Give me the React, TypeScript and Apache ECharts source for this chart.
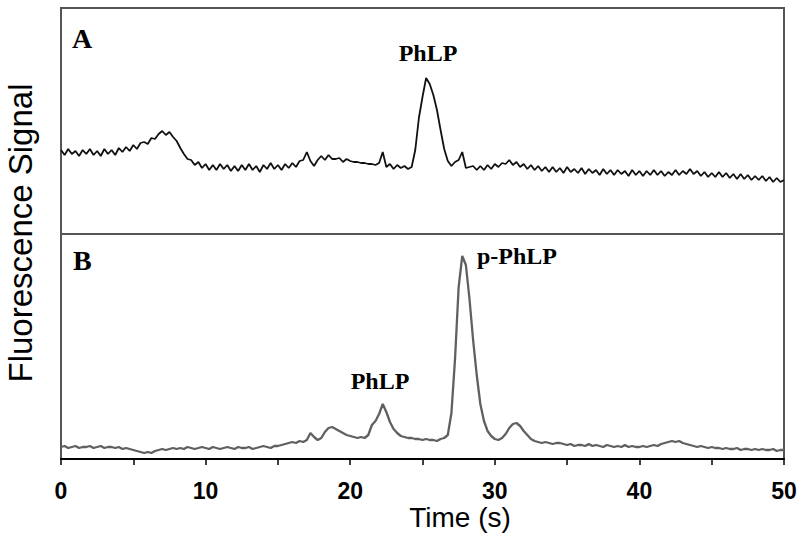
import React, { useEffect, useRef } from "react";
import * as echarts from "echarts";

// Sampling grid of the detector trace (seconds)
const TIME_START = 0;
const TIME_STEP = 0.25;

// Panel A: fluorescence signal (arbitrary units), one value per 0.25 s from 0 to 50 s
const signalA = [
  84, 79, 85, 80, 83, 78, 84, 80, 85, 79, 83, 78, 85, 80, 84, 79, 86, 82, 87, 83,
  89, 85, 91, 92, 90, 96, 95, 100, 103, 99, 102, 97, 93, 86, 80, 75, 74, 69, 72, 66,
  70, 64, 69, 64, 70, 65, 69, 63, 68, 63, 69, 64, 70, 64, 68, 62, 69, 65, 71, 65,
  69, 64, 70, 66, 71, 67, 73, 74, 82, 73, 68, 74, 78, 74, 79, 75, 75, 76, 72, 75,
  73, 72, 72, 71, 71, 70, 70, 69, 71, 82, 67, 70, 65, 69, 66, 68, 65, 67, 84, 116,
  137, 156, 150, 139, 124, 104, 85, 73, 68, 72, 74, 82, 66, 67, 68, 64, 68, 64, 69, 65,
  70, 67, 71, 70, 74, 69, 72, 67, 70, 65, 69, 64, 68, 63, 67, 62, 67, 62, 66, 61,
  67, 62, 65, 61, 66, 60, 65, 61, 64, 59, 65, 60, 64, 59, 64, 60, 63, 58, 64, 59,
  63, 58, 63, 59, 64, 59, 63, 58, 62, 59, 64, 59, 63, 60, 65, 60, 63, 58, 62, 57,
  61, 57, 62, 57, 61, 56, 60, 55, 60, 55, 59, 54, 58, 54, 58, 53, 57, 52, 56, 52,
  54,
];

// Panel B: fluorescence signal (arbitrary units), one value per 0.25 s from 0 to 50 s
const signalB = [
  12, 13, 11, 12, 13, 11, 12, 12, 13, 11, 12, 13, 11, 12, 12, 11, 12, 10, 11, 10,
  9, 8, 7, 6, 7, 6, 8, 9, 10, 9, 10, 11, 10, 11, 10, 12, 11, 10, 11, 12,
  11, 10, 12, 11, 10, 11, 12, 11, 10, 12, 11, 11, 12, 10, 11, 12, 13, 12, 11, 13,
  13, 14, 15, 16, 17, 16, 18, 17, 19, 26, 22, 19, 21, 27, 31, 32, 30, 28, 26, 24,
  23, 22, 21, 22, 21, 24, 34, 38, 45, 55, 47, 37, 30, 26, 23, 22, 21, 21, 20, 20,
  19, 20, 19, 19, 18, 20, 21, 24, 46, 100, 172, 203, 194, 160, 119, 84, 55, 38, 28, 23,
  20, 19, 21, 25, 31, 35, 36, 33, 28, 24, 20, 18, 17, 16, 17, 16, 15, 16, 16, 15,
  14, 15, 13, 14, 14, 13, 15, 13, 14, 13, 12, 14, 13, 12, 13, 12, 14, 12, 13, 12,
  12, 13, 12, 13, 14, 13, 15, 16, 17, 18, 17, 18, 16, 15, 14, 13, 12, 13, 12, 11,
  12, 11, 11, 10, 11, 10, 10, 11, 9, 10, 10, 9, 10, 9, 10, 9, 9, 10, 8, 9,
  9,
];

const X_MIN = 0;
const X_MAX = 50;
const X_TICK = 5;
const X_LABEL_EVERY = 10;

const panelLabels = ["A", "B"];
const peakLabels = ["PhLP", "PhLP", "p-PhLP"];
const xAxisTitle = "Time (s)";
const yAxisTitle = "Fluorescence Signal";

export default function App() {
  const ref = useRef<HTMLDivElement>(null);

  useEffect(() => {
    if (!ref.current) return;
    const chart = echarts.init(ref.current, undefined, { renderer: "svg" });
    const toPairs = (arr: number[]) => arr.map((v, i) => [TIME_START + i * TIME_STEP, v]);

    const serif = "'Liberation Serif', 'Times New Roman', serif";
    const sans = "'Liberation Sans', Arial, sans-serif";

    chart.setOption({
      animation: false,
      backgroundColor: "#ffffff",
      grid: [
        { left: 61, right: 16, top: 8, height: 226, show: true, borderColor: "#555", borderWidth: 2, backgroundColor: "transparent" },
        { left: 61, right: 16, top: 234, height: 225, show: true, borderColor: "#555", borderWidth: 2, backgroundColor: "transparent" },
      ],
      xAxis: [
        {
          type: "value", gridIndex: 0, min: X_MIN, max: X_MAX, interval: X_TICK,
          axisLine: { show: false }, axisTick: { show: false }, axisLabel: { show: false }, splitLine: { show: false },
        },
        {
          type: "value", gridIndex: 1, min: X_MIN, max: X_MAX, interval: X_TICK,
          axisLine: { show: true, onZero: false, lineStyle: { color: "#000", width: 2 } },
          axisTick: { show: true, inside: false, length: 6, lineStyle: { color: "#000", width: 1.5 } },
          axisLabel: {
            show: true, margin: 20, fontSize: 23, fontWeight: "bold", fontFamily: sans, color: "#000",
            formatter: (v: number) => (v % X_LABEL_EVERY === 0 ? String(v) : ""),
          },
          splitLine: { show: false },
        },
      ],
      yAxis: [
        { type: "value", gridIndex: 0, min: 0, max: 226, show: false, splitLine: { show: false } },
        { type: "value", gridIndex: 1, min: 0, max: 225, show: false, splitLine: { show: false } },
      ],
      series: [
        {
          type: "line", xAxisIndex: 0, yAxisIndex: 0, data: toPairs(signalA), showSymbol: false,
          lineStyle: { color: "#111", width: 1.8 }, silent: true,
        },
        {
          type: "line", xAxisIndex: 1, yAxisIndex: 1, data: toPairs(signalB), showSymbol: false,
          lineStyle: { color: "#606060", width: 2.3 }, silent: true,
        },
      ],
      graphic: [
        { type: "text", left: 72, top: 24, style: { text: panelLabels[0], font: `bold 28px ${serif}`, fill: "#000" } },
        { type: "text", left: 73, top: 246, style: { text: panelLabels[1], font: `bold 28px ${serif}`, fill: "#000" } },
        { type: "text", x: 428, y: 53, style: { text: peakLabels[0], font: `bold 24px ${serif}`, fill: "#000", align: "center", verticalAlign: "middle" } },
        { type: "text", x: 380, y: 381, style: { text: peakLabels[1], font: `bold 24px ${serif}`, fill: "#000", align: "center", verticalAlign: "middle" } },
        { type: "text", x: 517, y: 256, style: { text: peakLabels[2], font: `bold 24px ${serif}`, fill: "#000", align: "center", verticalAlign: "middle" } },
        { type: "text", x: 460, y: 517, style: { text: xAxisTitle, font: `28px ${sans}`, fill: "#000", align: "center", verticalAlign: "middle" } },
        {
          type: "text", x: 20, y: 233, rotation: Math.PI / 2,
          style: { text: yAxisTitle, font: `33px ${sans}`, fill: "#000", align: "center", verticalAlign: "middle" },
        },
      ],
    });

    return () => chart.dispose();
  }, []);

  return <div ref={ref} style={{ position: "fixed", left: 0, top: 0, width: 800, height: 538 }} />;
}
